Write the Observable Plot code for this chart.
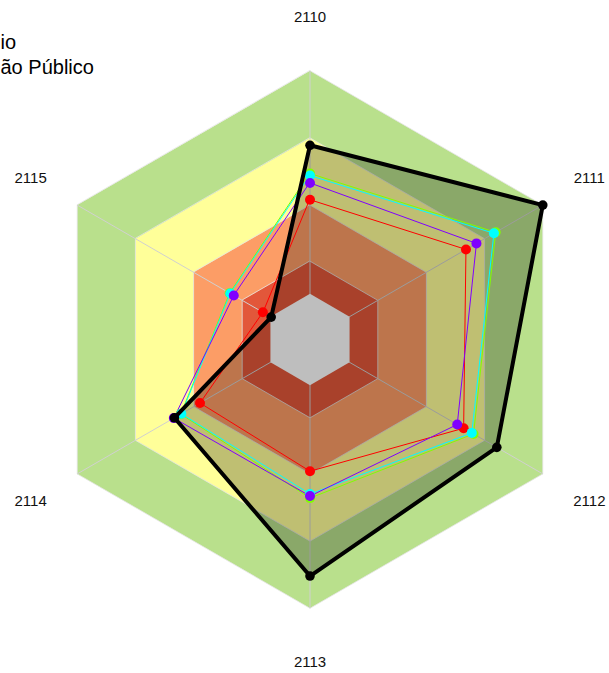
<!DOCTYPE html>
<html>
<head>
<meta charset="utf-8">
<script src="https://cdn.jsdelivr.net/npm/d3@7"></script>
<script src="https://cdn.jsdelivr.net/npm/@observablehq/plot@0.6"></script>
<style>
  html, body { margin: 0; padding: 0; background: #ffffff; }
  #chart svg { display: block; }
</style>
</head>
<body>
<div id="chart"></div>
<script>
// ---------- data ----------
const axisLabels = ["2110", "2111", "2112", "2113", "2114", "2115"];
const legendLabels = ["io", "ão Público"];

// radial values (same units as band levels; outer ring = 4)
const redValues    = [2.08, 2.68, 2.64, 1.96, 1.89, 0.81];
const greenValues  = [2.47, 3.19, 2.81, 2.36, 2.22, 1.38];
const cyanValues   = [2.44, 3.16, 2.78, 2.30, 2.21, 1.37];
const purpleValues = [2.33, 2.86, 2.53, 2.33, 2.34, 1.31];
const blackValues  = [2.89, 4.00, 3.21, 3.52, 2.33, 0.667];

const bandLevels = [4, 3, 2, 1.165];
const bandColors = ["#B9E08C", "#FFFF99", "#FC9D66", "#E2573A"];
const holeLevel = 0.68;
const labelLevel = 4.8;

const seriesColors = ["#FF0000", "#80FF00", "#00FFFF", "#8000FF"];
const seriesValues = [redValues, greenValues, cyanValues, purpleValues];

// ---------- layout ----------
const W = 609, H = 673;
const cx = 309.5, cy = 339, k = 67.2; // centre (px) and px per unit

const ang = i => i * Math.PI / 3;
const pts = vals => vals.map((r, i) => ({x: r * Math.sin(ang(i)), y: r * Math.cos(ang(i)), i}));
const hex = r => pts(axisLabels.map(() => r));

const marks = [];
bandLevels.forEach((lv, j) => {
  marks.push(Plot.line(hex(lv), {x: "x", y: "y", curve: "linear-closed", fill: bandColors[j], stroke: "#e4e4e4", strokeWidth: 0.8}));
});
const outer = hex(bandLevels[0]);
marks.push(Plot.link(outer, {x1: () => 0, y1: () => 0, x2: "x", y2: "y", stroke: "#d0d0d0", strokeWidth: 1}));
marks.push(Plot.line(pts(blackValues), {x: "x", y: "y", curve: "linear-closed", fill: "#000", fillOpacity: 0.25, stroke: "none"}));
marks.push(Plot.line(hex(holeLevel), {x: "x", y: "y", curve: "linear-closed", fill: "#BEBEBE", stroke: "none"}));

seriesValues.forEach((vals, j) => {
  marks.push(Plot.line(pts(vals), {x: "x", y: "y", curve: "linear-closed", stroke: seriesColors[j], strokeWidth: 1}));
});
seriesValues.forEach((vals, j) => {
  marks.push(Plot.dot(pts(vals), {x: "x", y: "y", r: 5, fill: seriesColors[j], stroke: "none"}));
});
marks.push(Plot.line(pts(blackValues), {x: "x", y: "y", curve: "linear-closed", stroke: "#000", strokeWidth: 4}));
marks.push(Plot.dot(pts(blackValues), {x: "x", y: "y", r: 4.8, fill: "#000", stroke: "none"}));

const labelPts = pts(axisLabels.map(() => labelLevel)).map((p, i) => ({...p, label: axisLabels[i]}));
marks.push(Plot.text(labelPts, {x: "x", y: "y", text: "label", fontSize: 15, fill: "#111"}));

marks.push(Plot.text([legendLabels[0]], {frameAnchor: "top-left", dy: 42, text: d => d, textAnchor: "start", lineAnchor: "middle", fontSize: 20, fill: "#000"}));
marks.push(Plot.text([legendLabels[1]], {frameAnchor: "top-left", dy: 67, text: d => d, textAnchor: "start", lineAnchor: "middle", fontSize: 20, fill: "#000"}));

const chart = Plot.plot({
  width: W,
  height: H,
  margin: 0,
  style: {fontFamily: "'Liberation Sans', Arial, sans-serif", background: "#fff"},
  x: {domain: [-cx / k, (W - cx) / k], axis: null},
  y: {domain: [(cy - H) / k, cy / k], axis: null},
  marks
});
document.getElementById("chart").appendChild(chart);
</script>
</body>
</html>
